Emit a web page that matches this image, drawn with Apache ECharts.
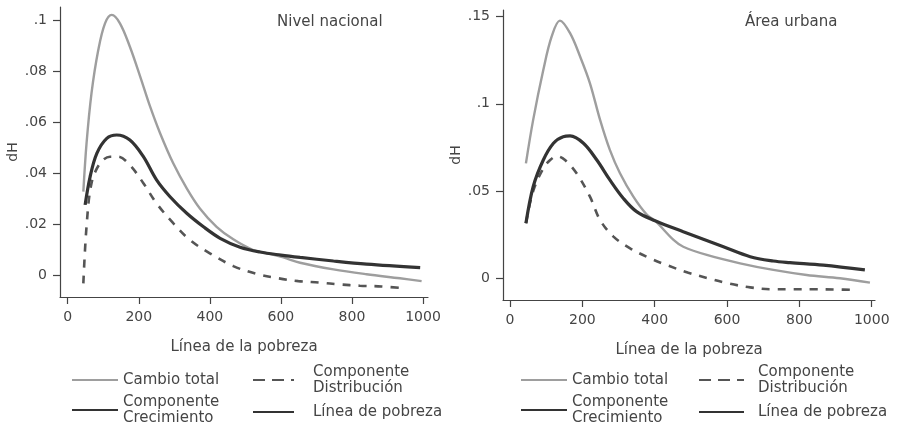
<!DOCTYPE html>
<html>
<head>
<meta charset="utf-8">
<script src="https://cdn.jsdelivr.net/npm/echarts@6/dist/echarts.min.js"></script>
<style>
html,body{margin:0;padding:0;background:#fff;}
#c{width:903px;height:428px;}
</style>
</head>
<body>
<div id="c"></div>
<script>
// ---- Data ----
var xTicks = [0, 200, 400, 600, 800, 1000];
var yTicksNac = [0, 0.02, 0.04, 0.06, 0.08, 0.1];
var yTicksUrb = [0, 0.05, 0.1, 0.15];

// Nivel nacional
var nacTotalX = [44, 53, 67, 86, 105, 124, 147, 175, 204, 232, 260, 297, 335, 372, 419, 466, 522, 560, 607, 654, 748, 841, 935, 996];
var nacTotalY = [0.0327, 0.0516, 0.0713, 0.0882, 0.0987, 0.102, 0.0987, 0.0895, 0.0778, 0.066, 0.0556, 0.0438, 0.034, 0.0261, 0.0189, 0.0140, 0.0098, 0.0086, 0.0069, 0.0048, 0.0022, 0.0003, -0.0013, -0.0024];
var nacCrecX = [49, 63, 82, 110, 138, 175, 213, 250, 288, 335, 382, 429, 485, 541, 600, 654, 748, 841, 992];
var nacCrecY = [0.0275, 0.0385, 0.0477, 0.0536, 0.0549, 0.0529, 0.0464, 0.0373, 0.0307, 0.0242, 0.0189, 0.0144, 0.0109, 0.0090, 0.0078, 0.0069, 0.0055, 0.0043, 0.0029];
var nacDistX = [44, 53, 67, 91, 119, 142, 175, 213, 250, 297, 344, 400, 466, 532, 593, 649, 710, 766, 822, 883, 945];
var nacDistY = [-0.0033, 0.019, 0.036, 0.0438, 0.0464, 0.0464, 0.0431, 0.036, 0.0281, 0.0203, 0.0137, 0.0085, 0.0035, 0.0004, -0.0013, -0.0024, -0.003, -0.0037, -0.0042, -0.0045, -0.0052];

// Área urbana
var urbTotalX = [44, 64, 92, 115, 138, 166, 194, 221, 249, 276, 304, 341, 378, 401, 452, 479, 544, 636, 728, 820, 912, 995];
var urbTotalY = [0.0659, 0.0908, 0.1194, 0.1385, 0.1477, 0.1405, 0.127, 0.1118, 0.0908, 0.0736, 0.0602, 0.0468, 0.0365, 0.033, 0.022, 0.0181, 0.0134, 0.0086, 0.0048, 0.0019, 0.0, -0.0025];
var urbCrecX = [44, 64, 92, 120, 147, 166, 203, 240, 276, 313, 350, 401, 479, 590, 664, 728, 774, 866, 981];
var urbCrecY = [0.0315, 0.0525, 0.0678, 0.0774, 0.0812, 0.0816, 0.0774, 0.0678, 0.0564, 0.0459, 0.0382, 0.033, 0.0267, 0.0181, 0.0124, 0.0099, 0.009, 0.0076, 0.0048];
var urbDistX = [44, 64, 92, 111, 130, 152, 184, 221, 249, 286, 332, 387, 433, 493, 548, 603, 664, 723, 783, 838, 898, 958];
var urbDistY = [0.0315, 0.050, 0.063, 0.0678, 0.070, 0.0678, 0.0602, 0.0468, 0.0334, 0.0239, 0.0172, 0.0115, 0.0076, 0.0032, 0.0, -0.0029, -0.0052, -0.0063, -0.0063, -0.0063, -0.0064, -0.0067];

var labelText = {
  'Cambio total': 'Cambio total',
  'Componente Distribución': 'Componente\nDistribución',
  'Componente Crecimiento': 'Componente\nCrecimiento',
  'Línea de pobreza': 'Línea de pobreza'
};

function pairs(xs, ys) { return xs.map(function (x, i) { return [x, ys[i]]; }); }

var FONT = 'DejaVu Sans';
var TXT = '#454545';
var AX = '#444';

function fmtY(v) {
  var s = String(parseFloat(Number(v).toFixed(4)));
  return s === '0' ? '0' : s.replace(/^0\./, '.');
}
function fmtX(v) { return String(Math.round(v)); }

function xAxisDef(gi, mn, mx) {
  return {
    type: 'value', gridIndex: gi, min: mn, max: mx,
    name: 'Línea de la pobreza', nameLocation: 'middle', nameGap: 43,
    nameTextStyle: { fontFamily: FONT, fontSize: 15, color: TXT },
    axisLine: { show: true, onZero: false, lineStyle: { color: AX, width: 1.2 } },
    axisTick: { show: true, length: 7, customValues: xTicks, lineStyle: { color: AX, width: 1.2 } },
    axisLabel: { customValues: xTicks, margin: 13, fontFamily: FONT, fontSize: 14, color: TXT, formatter: fmtX },
    splitLine: { show: false }
  };
}
function yAxisDef(gi, mn, mx, ticks) {
  return {
    type: 'value', gridIndex: gi, min: mn, max: mx,
    name: 'dH', nameLocation: 'middle', nameGap: 33,
    nameTextStyle: { fontFamily: FONT, fontSize: 14, color: TXT },
    axisLine: { show: true, onZero: false, lineStyle: { color: AX, width: 1.2 } },
    axisTick: { show: true, length: 7, customValues: ticks, lineStyle: { color: AX, width: 1.2 } },
    axisLabel: { customValues: ticks, margin: 13, fontFamily: FONT, fontSize: 14, color: TXT, formatter: fmtY },
    splitLine: { show: false }
  };
}

var styles = {
  'Cambio total': { color: '#9e9e9e', width: 2.4, type: 'solid' },
  'Componente Distribución': { color: '#555', width: 2.6, type: [8, 8] },
  'Componente Crecimiento': { color: '#333', width: 3.2, type: 'solid' },
  'Línea de pobreza': { color: '#333', width: 3.2, type: 'solid' }
};

function ser(name, gi, data) {
  var st = styles[name];
  return {
    name: name, type: 'line', xAxisIndex: gi, yAxisIndex: gi,
    data: data, smooth: 0.35, symbol: 'none', showSymbol: false,
    silent: true, animation: false,
    itemStyle: { color: st.color },
    lineStyle: { color: st.color, width: st.width, type: st.type }
  };
}

function legendDef(name, left, top, iconW, padL) {
  return {
    data: [name], left: left, top: top, padding: 0, selectedMode: false,
    itemWidth: iconW, itemHeight: 12, orient: 'horizontal',
    itemStyle: { opacity: 0, borderWidth: 0 },
    lineStyle: name === 'Componente Distribución' ? { type: [12, 7] } : {},
    formatter: function (n) { return labelText[n]; },
    textStyle: { fontFamily: FONT, fontSize: 15, color: TXT, lineHeight: 16, padding: [0, 0, 0, padL] }
  };
}

var option = {
  animation: false,
  backgroundColor: '#fff',
  title: [
    { text: 'Nivel nacional', left: 277, top: 15, padding: 0, textStyle: { fontFamily: FONT, fontSize: 15, fontWeight: 'normal', color: TXT } },
    { text: 'Área urbana', left: 745, top: 15, padding: 0, textStyle: { fontFamily: FONT, fontSize: 15, fontWeight: 'normal', color: TXT } }
  ],
  grid: [
    { left: 60, top: 7, width: 368, height: 290 },
    { left: 503, top: 10, width: 372, height: 290 }
  ],
  xAxis: [xAxisDef(0, -21.7, 1014), xAxisDef(1, -19.4, 1009)],
  yAxis: [yAxisDef(0, -0.00863, 0.1051, yTicksNac), yAxisDef(1, -0.01244, 0.1538, yTicksUrb)],
  legend: [
    legendDef('Cambio total', 71, 372, 46, 0),
    legendDef('Componente Distribución', 252, 364, 41, 14),
    legendDef('Componente Crecimiento', 71, 394, 46, 0),
    legendDef('Línea de pobreza', 252, 404, 41, 14),
    legendDef('Cambio total', 520, 372, 46, 0),
    legendDef('Componente Distribución', 698, 364, 45, 9),
    legendDef('Componente Crecimiento', 520, 394, 46, 0),
    legendDef('Línea de pobreza', 698, 404, 45, 9)
  ],
  series: [
    ser('Cambio total', 0, pairs(nacTotalX, nacTotalY)),
    ser('Componente Distribución', 0, pairs(nacDistX, nacDistY)),
    ser('Componente Crecimiento', 0, pairs(nacCrecX, nacCrecY)),
    ser('Línea de pobreza', 0, []),
    ser('Cambio total', 1, pairs(urbTotalX, urbTotalY)),
    ser('Componente Distribución', 1, pairs(urbDistX, urbDistY)),
    ser('Componente Crecimiento', 1, pairs(urbCrecX, urbCrecY)),
    ser('Línea de pobreza', 1, [])
  ]
};

var chart = echarts.init(document.getElementById('c'), null, { renderer: 'canvas' });
chart.setOption(option);
</script>
</body>
</html>
